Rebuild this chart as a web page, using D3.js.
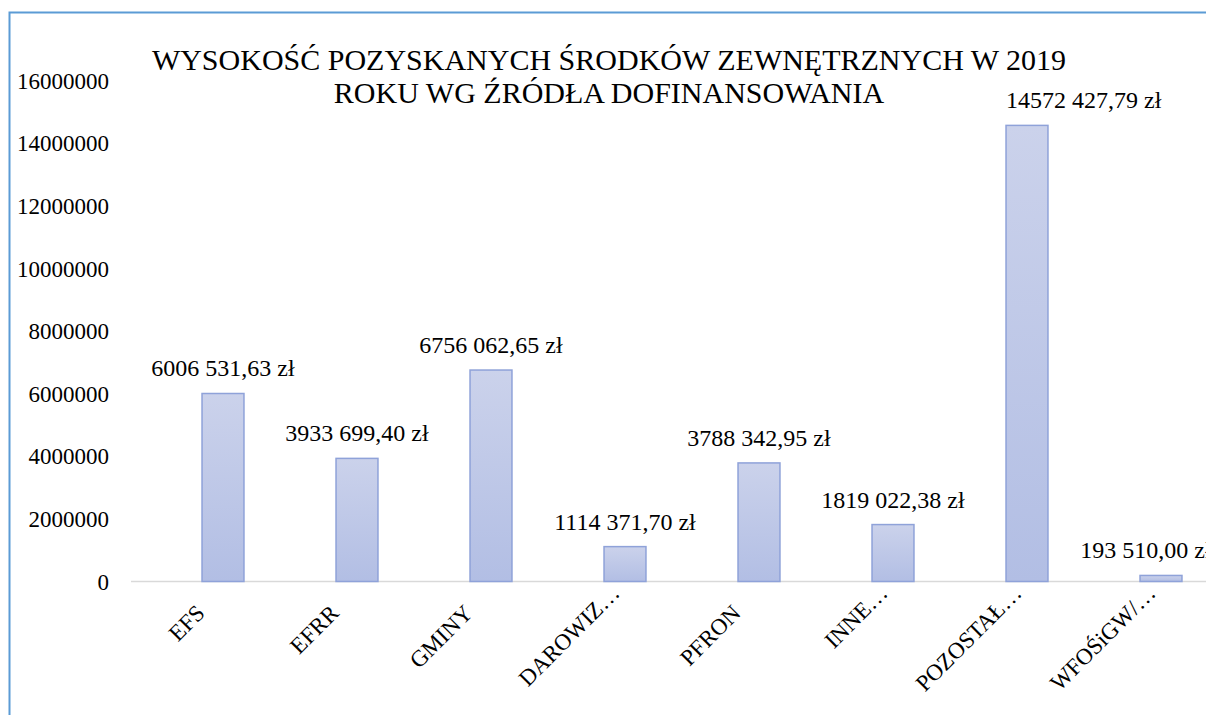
<!DOCTYPE html>
<html lang="pl">
	<head>
		<meta charset="UTF-8" />
		<title>Wysokość pozyskanych środków zewnętrznych w 2019</title>
		<script src="https://d3js.org/d3.v7.min.js"></script>
		<style>
			html,
			body {
				margin: 0;
				background: #fff;
			}
			svg {
				display: block;
			}
			svg text {
				font-family: 'Liberation Serif', 'Times New Roman', serif;
				fill: #000;
			}
			.tick-label,
			.cat-label {
				font-size: 23px;
			}
			.value-label {
				font-size: 24px;
			}
			.title {
				font-size: 30px;
			}
		</style>
	</head>
	<body>
		<script type="module">
			const categories = [
				'EFS',
				'EFRR',
				'GMINY',
				'DAROWIZ…',
				'PFRON',
				'INNE…',
				'POZOSTAŁ…',
				'WFOŚiGW/…',
			];
			const values = [
				6006531.63, 3933699.4, 6756062.65, 1114371.7, 3788342.95, 1819022.38,
				14572427.79, 193510.0,
			];
			const yTicks = [
				0, 2000000, 4000000, 6000000, 8000000, 10000000, 12000000, 14000000,
				16000000,
			];
			const titleLines = [
				'WYSOKOŚĆ POZYSKANYCH ŚRODKÓW ZEWNĘTRZNYCH W 2019',
				'ROKU WG ŹRÓDŁA DOFINANSOWANIA',
			];

			const width = 1206;
			const height = 715;
			const chartRight = 1212; // chart area runs a bit past the crop

			// polish-style label: only the last group of three is split off
			const fmtValue = (v) => {
				const [int, dec] = v.toFixed(2).split('.');
				const head = int.slice(0, -3);
				const tail = int.slice(-3);
				return (head ? head + ' ' : '') + tail + ',' + dec + ' zł';
			};

			const svg = d3
				.select('body')
				.append('svg')
				.attr('width', width)
				.attr('height', height);

			const defs = svg.append('defs');
			const grad = defs
				.append('linearGradient')
				.attr('id', 'barGrad')
				.attr('x1', 0)
				.attr('y1', 0)
				.attr('x2', 0)
				.attr('y2', 1);
			grad.append('stop').attr('offset', '0%').attr('stop-color', '#cbd2eb');
			grad.append('stop').attr('offset', '100%').attr('stop-color', '#b2bee4');

			// chart frame (only top + left visible in the crop)
			svg
				.append('path')
				.attr('d', `M9.5,${height} V12.5 H${width}`)
				.attr('fill', 'none')
				.attr('stroke', '#5b9bd5')
				.attr('stroke-width', 2);

			const x = d3
				.scaleBand()
				.domain(categories)
				.range([156, 1228])
				.paddingInner(0.687)
				.paddingOuter(0.3435);

			const y = d3.scaleLinear().domain([0, 16000000]).range([581.5, 80.7]);

			// y labels
			svg
				.append('g')
				.selectAll('text')
				.data(yTicks)
				.join('text')
				.attr('class', 'tick-label')
				.attr('x', 109)
				.attr('y', (d) => y(d))
				.attr('dy', '0.35em')
				.attr('text-anchor', 'end')
				.text((d) => d3.format('d')(d));

			// baseline
			svg
				.append('line')
				.attr('x1', 131)
				.attr('x2', width)
				.attr('y1', y(0))
				.attr('y2', y(0))
				.attr('stroke', '#d9d9d9')
				.attr('stroke-width', 1.5);

			// bars
			svg
				.append('g')
				.selectAll('rect')
				.data(values)
				.join('rect')
				.attr('x', (d, i) => x(categories[i]))
				.attr('y', (d) => y(d))
				.attr('width', x.bandwidth())
				.attr('height', (d) => y(0) - y(d))
				.attr('fill', 'url(#barGrad)')
				.attr('stroke', '#8fa2d9')
				.attr('stroke-width', 1.5);

			// title
			const titleG = svg.append('g');
			titleG
				.selectAll('text')
				.data(titleLines)
				.join('text')
				.attr('class', 'title')
				.attr('x', 609)
				.attr('y', (d, i) => 70 + i * 33)
				.attr('text-anchor', 'middle')
				.text((d) => d);
			const tb = titleG.node().getBBox();

			// value labels
			const labels = svg
				.append('g')
				.selectAll('text')
				.data(values)
				.join('text')
				.attr('class', 'value-label')
				.attr('x', (d, i) => x(categories[i]) + x.bandwidth() / 2)
				.attr('y', (d) => y(d) - 17)
				.attr('text-anchor', 'middle')
				.text(fmtValue);

			// nudge labels like the spreadsheet does: away from the title box,
			// and back inside the right edge of the chart area
			labels.each(function (d, i) {
				const b = this.getBBox();
				const pad = 16;
				const hitsTitle =
					b.x < tb.x + tb.width + pad &&
					b.x + b.width > tb.x - pad &&
					b.y < tb.y + tb.height + pad &&
					b.y + b.height > tb.y - pad;
				const t = d3.select(this);
				if (hitsTitle) {
					t.attr('text-anchor', 'start').attr('x', x(categories[i]));
				} else if (b.x + b.width > chartRight) {
					t.attr('x', +t.attr('x') - (b.x + b.width - chartRight));
				}
			});

			// category labels, rotated
			svg
				.append('g')
				.selectAll('text')
				.data(categories)
				.join('text')
				.attr('class', 'cat-label')
				.attr('text-anchor', 'end')
				.attr('transform', (d) => {
					const cx = x(d) + x.bandwidth() / 2;
					const cut = d.endsWith('…');
					const px = cut ? cx - 4 : cx - 17;
					const py = cut ? y(0) + 13 : y(0) + 33;
					return `translate(${px},${py}) rotate(-45)`;
				})
				.text((d) => d);
		</script>
	</body>
</html>
